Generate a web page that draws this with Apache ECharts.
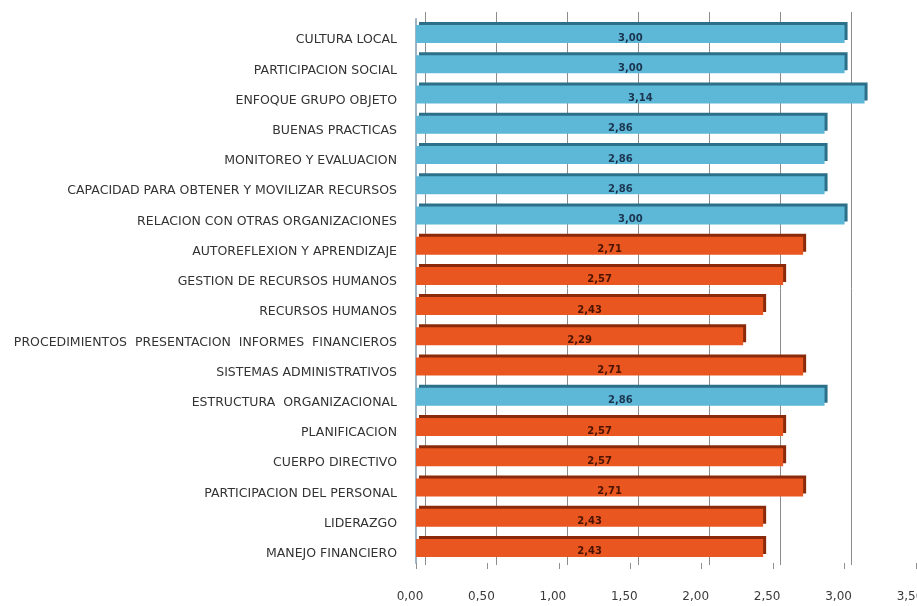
<!DOCTYPE html>
<html>
<head>
<meta charset="utf-8">
<script src="https://cdn.jsdelivr.net/npm/echarts@6/dist/echarts.min.js"></script>
<style>html,body{margin:0;padding:0;background:#fff;}#c{width:917px;height:606px;}</style>
</head>
<body>
<div id="c"></div>
<script>
const categories = [
  'CULTURA LOCAL',
  'PARTICIPACION SOCIAL',
  'ENFOQUE GRUPO OBJETO',
  'BUENAS PRACTICAS',
  'MONITOREO Y EVALUACION',
  'CAPACIDAD PARA OBTENER Y MOVILIZAR RECURSOS',
  'RELACION CON OTRAS ORGANIZACIONES',
  'AUTOREFLEXION Y APRENDIZAJE',
  'GESTION DE RECURSOS HUMANOS',
  'RECURSOS HUMANOS',
  'PROCEDIMIENTOS  PRESENTACION  INFORMES  FINANCIEROS',
  'SISTEMAS ADMINISTRATIVOS',
  'ESTRUCTURA  ORGANIZACIONAL',
  'PLANIFICACION',
  'CUERPO DIRECTIVO',
  'PARTICIPACION DEL PERSONAL',
  'LIDERAZGO',
  'MANEJO FINANCIERO'
];
const values = [3.00, 3.00, 3.14, 2.86, 2.86, 2.86, 3.00, 2.71, 2.57, 2.43, 2.29, 2.71, 2.86, 2.57, 2.57, 2.71, 2.43, 2.43];
// group of each category: 'E' = blue bars, 'I' = orange bars
const groups = ['E','E','E','E','E','E','E','I','I','I','I','I','E','I','I','I','I','I'];
const xTicks = [0, 0.5, 1, 1.5, 2, 2.5, 3, 3.5];

const styles = {
  E: { color: '#5DB7D6', shadow: '#2B6F88', label: '#1B3550' },
  I: { color: '#E9561F', shadow: '#8A2A0A', label: '#4A1400' }
};

const fmt = v => v.toFixed(2).replace('.', ',');

const data = values.map((v, i) => {
  const s = styles[groups[i]];
  return {
    value: v,
    itemStyle: { color: s.color, shadowColor: s.shadow, shadowBlur: 0, shadowOffsetX: 3, shadowOffsetY: -3 },
    label: { color: s.label }
  };
});

const chart = echarts.init(document.getElementById('c'), null, { renderer: 'canvas' });
chart.setOption({
  animation: false,
  backgroundColor: '#ffffff',
  grid: [
    { left: 416, right: 1, top: 19, bottom: 43, containLabel: false, outerBoundsMode: 'none' },
    { left: 425, width: 426, top: 12, bottom: 41, containLabel: false, outerBoundsMode: 'none' }
  ],
  xAxis: [
    {
      type: 'value', gridIndex: 0, min: xTicks[0], max: xTicks[xTicks.length - 1], interval: 0.5,
      axisLine: { show: false },
      axisTick: { show: true, length: 6, lineStyle: { color: '#8f8f8f' } },
      splitLine: { show: false },
      axisLabel: {
        margin: 28, fontFamily: 'DejaVu Sans', fontSize: 12, color: '#3a3a3a',
        padding: [0, 12, 0, 0], formatter: v => fmt(v)
      }
    },
    {
      type: 'value', gridIndex: 1, min: 0, max: 3, interval: 0.5,
      axisLine: { show: false }, axisTick: { show: false }, axisLabel: { show: false },
      splitLine: { show: true, showMinLine: true, showMaxLine: true, lineStyle: { color: '#8c8c8c', width: 1 } }
    }
  ],
  yAxis: [
    {
      type: 'category', gridIndex: 0, data: categories, inverse: true,
      axisLine: { show: true, lineStyle: { color: '#9fb3c4', width: 2 } },
      axisTick: { show: false },
      axisLabel: {
        margin: 19, fontFamily: 'DejaVu Sans', fontSize: 12.5, color: '#333333',
        verticalAlign: 'top', lineHeight: 12
      }
    },
    {
      type: 'value', gridIndex: 1, min: 0, max: 1, show: false
    }
  ],
  series: [
    {
      type: 'bar', xAxisIndex: 0, yAxisIndex: 0, data: data, barWidth: 18,
      label: {
        show: true, position: 'inside', offset: [0, 4],
        fontFamily: 'DejaVu Sans', fontSize: 10, fontWeight: 'bold',
        formatter: p => fmt(p.value)
      }
    }
  ]
});
</script>
</body>
</html>
